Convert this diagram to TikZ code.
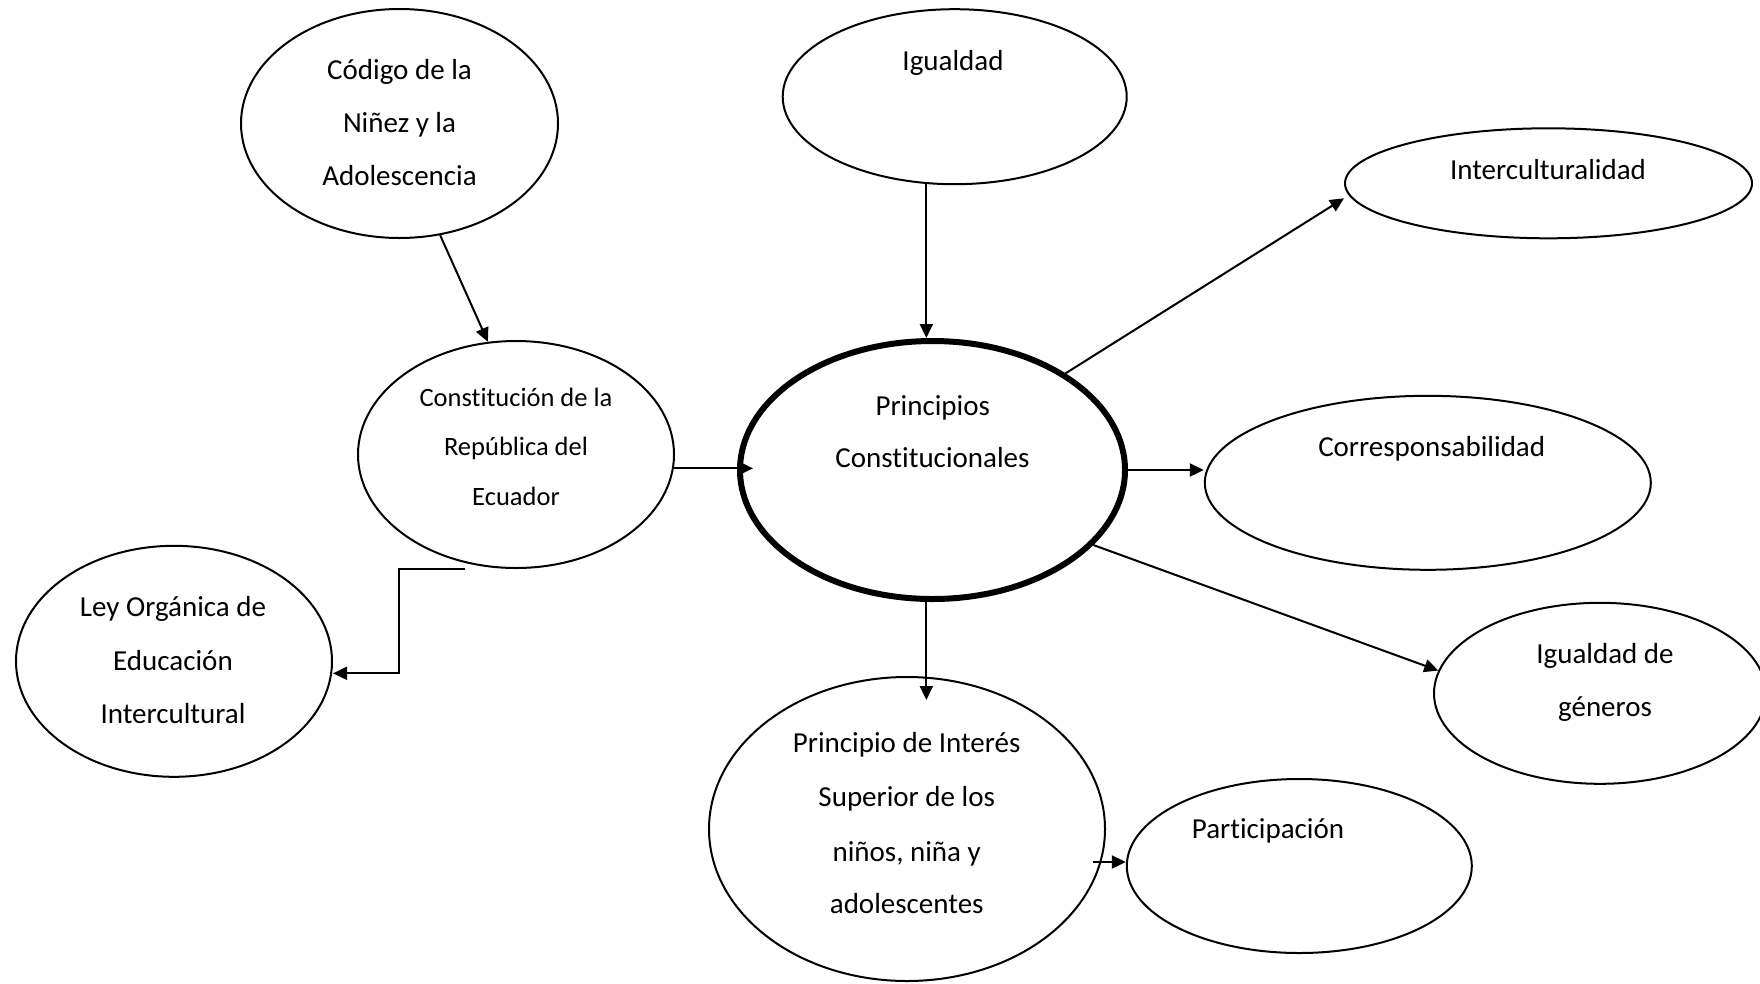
\documentclass[tikz,border=0pt]{standalone}
\usepackage{fontspec}
\setmainfont{Carlito}[Ligatures={NoCommon}]
\usetikzlibrary{shapes.geometric,arrows.meta,calc}
\begin{document}
\begin{tikzpicture}[x=1pt,y=-1pt,
  oval/.style={ellipse,draw,line width=2pt,inner sep=0pt},
  boldoval/.style={ellipse,draw,line width=6pt,inner sep=0pt},
  txt/.style={anchor=base,inner sep=0pt,font=\fontsize{29}{35}\selectfont},
  stxt/.style={anchor=base,inner sep=0pt,font=\fontsize{26.5}{32}\selectfont},
  arr/.style={line width=2pt,-{Triangle[length=14pt,width=13pt]}}]
\useasboundingbox (0,0) rectangle (1760,983);
% ellipses
\node[oval,minimum width=317pt,minimum height=229pt] (cod) at (399.5,123.5) {};
\node[oval,minimum width=344pt,minimum height=175pt] (igu) at (954.7,96.7) {};
\node[oval,minimum width=407pt,minimum height=110pt] (int) at (1548.5,183.3) {};
\node[oval,minimum width=316pt,minimum height=227pt] (con) at (516,454.5) {};
\node[boldoval,minimum width=385pt,minimum height=258pt] (pri) at (932.5,470) {};
\node[oval,minimum width=446pt,minimum height=174pt] (cor) at (1427.8,482.8) {};
\node[oval,minimum width=316pt,minimum height=231pt] (ley) at (174,661.3) {};
\node[oval,minimum width=332pt,minimum height=181pt] (gen) at (1600,693.3) {};
\node[oval,minimum width=396pt,minimum height=304pt] (sup) at (907,829) {};
\node[oval,minimum width=345pt,minimum height=174pt] (par) at (1299.3,866) {};
% texts
\node[txt] (cod1) at (399.5,79) {Código de la};
\node[txt] (cod2) at (399.5,132.7) {Niñez y la};
\node[txt] (cod3) at (399.5,185) {Adolescencia};
\node[txt] (igut) at (953,70.7) {Igualdad};
\node[txt] (intt) at (1548,179) {Interculturalidad};
\node[stxt] (con1) at (516,406.7) {Constitución de la};
\node[stxt] (con2) at (516,455) {República del};
\node[stxt] (con3) at (516,505) {Ecuador};
\node[txt] (pri1) at (932.8,415) {Principios};
\node[txt] (pri2) at (932.5,467.3) {Constitucionales};
\node[txt] (cort) at (1431.7,456) {Corresponsabilidad};
\node[txt] (ley1) at (173,616.7) {Ley Orgánica de};
\node[txt] (ley2) at (173,670) {Educación};
\node[txt] (ley3) at (173,723.3) {Intercultural};
\node[txt] (gen1) at (1605,663.3) {Igualdad de};
\node[txt] (gen2) at (1605,716.7) {géneros};
\node[txt] (sup1) at (906.7,752.7) {Principio de Interés};
\node[txt] (sup2) at (906.7,806.7) {Superior de los};
\node[txt] (sup3) at (906.7,861.7) {niños, niña y};
\node[txt] (sup4) at (906.7,913.3) {adolescentes};
\node[txt] (part) at (1268,838.3) {Participación};
% connectors
\draw[arr] (cod.-70.5) -- (con.104.2);
\draw[arr] (con.-5.6) -- ($(con.-5.6 -| pri.west)+(16,0)$);
\draw[arr] (igu.-108.9) -- (igu.-108.9 |- pri.north);
\draw[arr] (pri.36.7) -- ([yshift=-15pt]int.west);
\draw[arr] (pri.east) -- (pri.east -| cor.west);
\draw[arr] (pri.-25.3) -- (gen.172.6);
\draw[arr] (pri.south -| igu.-108.9) -- ++(0,98);
\draw[arr] ([xshift=-13pt,yshift=-33pt]sup.east) -- ([yshift=4pt]par.west);
\draw[arr] ([xshift=-51pt]con.south) -- ++(-66,0) |- ([yshift=-12pt]ley.east);
\end{tikzpicture}
\end{document}
